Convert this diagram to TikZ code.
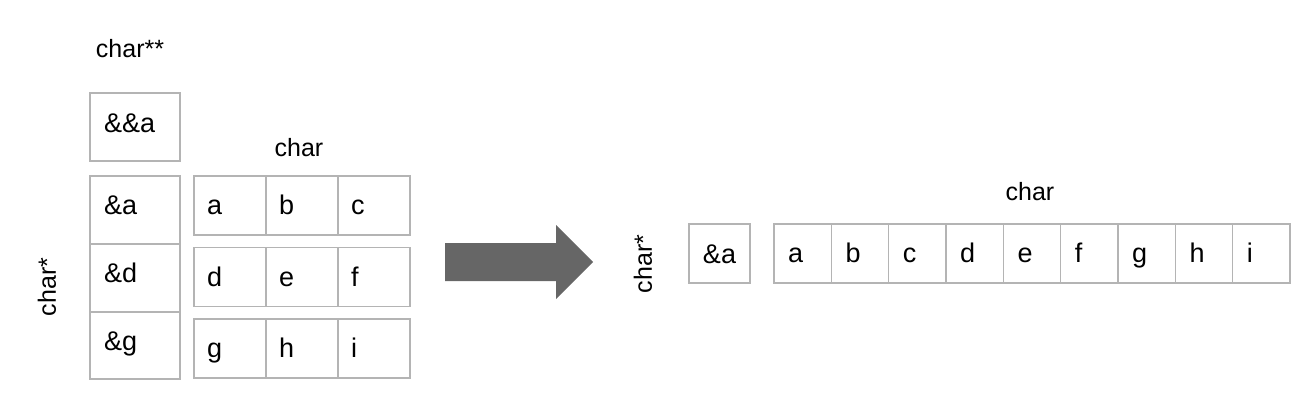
\documentclass[tikz,border=0pt]{standalone}
\usepackage{fontspec}
\setmainfont{Liberation Sans}
\usepackage{xcolor}
\usetikzlibrary{positioning}
\usetikzlibrary{calc}
\definecolor{cellline}{RGB}{180,180,180}
\definecolor{arrowgray}{RGB}{102,102,102}

\begin{document}
\begin{tikzpicture}[x=1pt, y=-1pt,
    box/.style={draw=cellline, line width=1.5pt},
    celltext/.style={inner sep=0pt, anchor=base west, font=\fontsize{27}{32}\selectfont},
    typelabel/.style={inner sep=0pt, font=\fontsize{25}{30}\selectfont}]
      \useasboundingbox (0,0) rectangle (1301,415);
      % char** and char* (left)
      \node [typelabel, anchor=base] (pptype) at (130,57) {char**};
      \draw [box] (90,93) rectangle (180,161);
      \node [celltext] (pp) at (104,132) {\&\&a};
      \draw [box] (90,176) rectangle (180,379) (90,244) -- (180,244) (90,312) -- (180,312);
      \node [celltext] (ptr-1) at (104,214) {\&a};
      \node [celltext] (ptr-2) at (104,282) {\&d};
      \node [celltext] (ptr-3) at (104,350) {\&g};
      \node [typelabel, rotate=90] (ptrtype) at (47,287) {char*};
      % char rows
      \node [typelabel, anchor=base] (chartype) at (299,156) {char};
      \foreach \top/\la/\lb/\lc [count=\r] in {176/a/b/c, 247.5/d/e/f, 319/g/h/i} {
        \draw [box] (194,\top) rectangle (410,\top+59) (266,\top) -- (266,\top+59) (338,\top) -- (338,\top+59);
        \node [celltext] (c-\r-1) at (207,\top+38.5) {\la};
        \node [celltext] (c-\r-2) at (279,\top+38.5) {\lb};
        \node [celltext] (c-\r-3) at (351,\top+38.5) {\lc};
      }
      % arrow
      \fill [arrowgray] (445,243) -- (556,243) -- (556,225) -- (593,262) -- (556,299) -- (556,281) -- (445,281) -- cycle;
      % flat version
      \node [typelabel, rotate=90] (flatptrtype) at (643,264) {char*};
      \draw [box] (689,224) rectangle (750,283);
      \node [celltext, anchor=base] (flatptr) at (719.5,263) {\&a};
      \node [typelabel, anchor=base] (flattype) at (1030,200) {char};
      \draw [box] (774,224) rectangle (1290,283);
      \foreach \l [count=\i from 0] in {a,b,c,d,e,f,g,h,i} {
        \ifnum\i>0 \draw [box] (774+\i*57.333,224) -- (774+\i*57.333,283); \fi
        \node [celltext] (f-\l) at (788+\i*57.333,262) {\l};
      }
\end{tikzpicture}
\end{document}
